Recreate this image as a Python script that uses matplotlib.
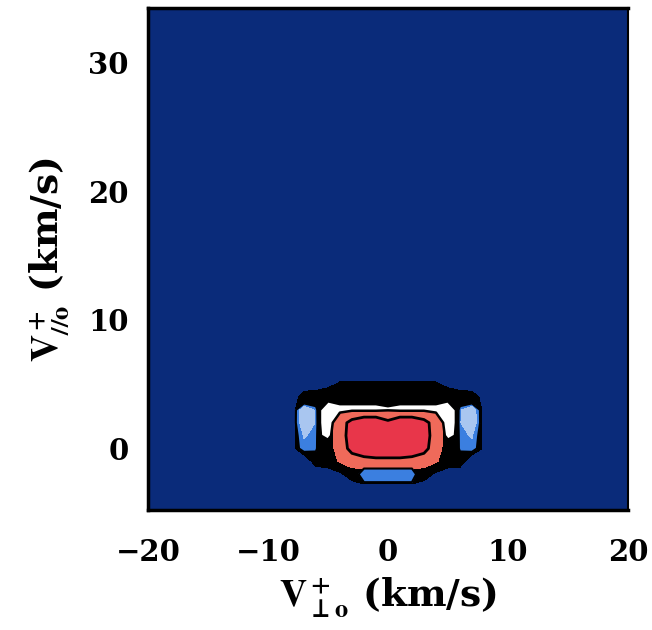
import numpy as np
import matplotlib
matplotlib.use("Agg")
import matplotlib.pyplot as plt

# grid of the distribution (km/s)
vperp = np.arange(-9, 10)          # x columns: -9 .. 9
vpar = np.arange(6, -5, -1)        # y rows: 6 .. -4 (top to bottom)

# main level field: 0 navy, 1 black rim, 2 salmon, 3 red core
f_main = np.array([
    [0, 0, 0, 0, 0, 0, 0, 0, 0, 0, 0, 0, 0, 0, 0, 0, 0, 0, 0],
    [0, 0, 0, 0, 0.3, 0.6, 0.6, 0.6, 0.6, 0.6, 0.6, 0.6, 0.6, 0.6, 0.3, 0, 0, 0, 0],
    [0, 0, 0.9, 1, 1, 1, 1, 1, 1, 1, 1, 1, 1, 1, 1, 1, 0.9, 0.2, 0],
    [0, 0.3, 1, 1, 1, 1.2, 1.6, 1.6, 1.6, 1.6, 1.6, 1.6, 1.6, 1.2, 1, 1, 1, 0.4, 0],
    [0, 0.3, 1, 1, 1, 2.1, 2.8, 3.2, 3.2, 2.7, 3.2, 3.2, 2.8, 2.1, 1, 1, 1, 0.4, 0],
    [0, 0.3, 1, 1, 1, 2.1, 2.9, 3.3, 3.3, 3.3, 3.3, 3.3, 2.9, 2.1, 1, 1, 1, 0.4, 0],
    [0, 0.3, 1, 1, 1, 2.0, 2.8, 3.2, 3.3, 3.3, 3.3, 3.2, 2.8, 2.0, 1, 1, 1, 0.4, 0],
    [0, 0, 0, 0.8, 1, 1.6, 2.0, 2.1, 2.2, 2.2, 2.2, 2.1, 2.0, 1.6, 1, 0.9, 0, 0, 0],
    [0, 0, 0, 0, 0, 0.3, 1, 1, 1, 1, 1, 1, 1, 0.3, 0, 0, 0, 0, 0],
    [0, 0, 0, 0, 0, 0, 0, 0.33, 0.33, 0.33, 0.33, 0.33, 0, 0, 0, 0, 0, 0, 0],
    [0, 0, 0, 0, 0, 0, 0, 0, 0, 0, 0, 0, 0, 0, 0, 0, 0, 0, 0],
])

# white arch over the core (white where > 0.5)
f_white = np.array([
    [-1] * 19,
    [-1] * 19,
    [-1, -1, -1, -0.5, 0, 0, 0, 0, 0, 0, 0, 0, 0, 0, 0, -0.5, -1, -1, -1],
    [-1, -1, -1, 0, 1.5, 0.9, 0.9, 0.9, 0.9, 0.7, 0.9, 0.9, 0.9, 0.9, 1.5, 0, -1, -1, -1],
    [-1, -1, -1, 0, 1.5, -1, -5, -5, -5, -5, -5, -5, -5, -1, 1.5, 0, -1, -1, -1],
    [-1, -1, -1, 0, 1.2, -1.5, -2, -2, -2, -2, -2, -2, -2, -1.5, 1.2, 0, -1, -1, -1],
    [-1] * 19,
    [-1] * 19,
    [-1] * 19,
    [-1] * 19,
    [-1] * 19,
])

# blue side/bottom patches: 1 blue, 2 light blue
f_blue = np.array([
    [-1.5] * 19,
    [-1.5] * 19,
    [-1.5] * 19,
    [-1.5, -0.5, 2.5, 1.3, -6, -1.5, -1.5, -1.5, -1.5, -1.5, -1.5, -1.5, -1.5, -1.5, -6, 1.3, 2.5, -0.5, -1.5],
    [-1.5, -0.5, 2.6, 1.4, -6, -1.5, -1.5, -1.5, -1.5, -1.5, -1.5, -1.5, -1.5, -1.5, -6, 1.4, 2.6, -0.5, -1.5],
    [-1.5, -0.5, 1.6, 1.2, -6, -1.5, -1.5, -1.5, -1.5, -1.5, -1.5, -1.5, -1.5, -1.5, -6, 1.2, 1.6, -0.5, -1.5],
    [-1.5, -0.5, 1.2, 1.1, -6, -1.5, -1.5, -1.5, -1.5, -1.5, -1.5, -1.5, -1.5, -1.5, -6, 1.1, 1.2, -0.5, -1.5],
    [-1.5, -1.5, -1.5, -1.5, -1.5, -1.5, -1.5, -0.5, -0.5, -0.5, -0.5, -0.5, -1.5, -1.5, -1.5, -1.5, -1.5, -1.5, -1.5],
    [-1.5, -1.5, -1.5, -1.5, -1.5, -1.5, -0.5, 1.3, 1.3, 1.3, 1.3, 1.3, -1, -1.5, -1.5, -1.5, -1.5, -1.5, -1.5],
    [-1.5, -1.5, -1.5, -1.5, -1.5, -1.5, -1.5, 0, 0, 0, 0, 0, -1.5, -1.5, -1.5, -1.5, -1.5, -1.5, -1.5],
    [-1.5] * 19,
])

xticks = [-20, -10, 0, 10, 20]
yticks = [0, 10, 20, 30]

navy = "#0a2b7a"

plt.rcParams["font.family"] = "DejaVu Serif"
plt.rcParams["font.weight"] = "bold"
plt.rcParams["mathtext.fontset"] = "stix"
plt.rcParams["mathtext.default"] = "rm"

fig = plt.figure(figsize=(6.52, 6.30), dpi=100)
ax = fig.add_axes([0.227, 0.19, 0.736, 0.797])
ax.set_facecolor(navy)

X, Y = np.meshgrid(vperp, vpar)
ax.contourf(X, Y, f_main, levels=[-1, 0.5, 1.5, 2.5, 10],
            colors=[navy, "black", "#ef6a5a", "#e8364a"])
ax.contour(X, Y, f_main, levels=[2.5], colors="black", linewidths=2)
ax.contourf(X, Y, f_white, levels=[0.5, 10], colors=["white"])
ax.contour(X, Y, f_white, levels=[0.5], colors="black", linewidths=1.8)
ax.contourf(X, Y, f_blue, levels=[0.5, 1.5, 10],
            colors=["#3b7fe0", "#a9c6f0"])
ax.contour(X, Y, f_blue, levels=[0.5], colors="black", linewidths=1.5)

ax.set_xlim(-20, 20)
ax.set_ylim(-4.8, 34.2)
ax.set_xticks(xticks)
ax.set_yticks(yticks)
ax.tick_params(length=0, labelsize=21)
ax.tick_params(axis="x", pad=20)
ax.tick_params(axis="y", pad=14)

for side in ["left", "bottom", "top"]:
    ax.spines[side].set_linewidth(2.5)
ax.spines["right"].set_linewidth(1.5)

ax.set_xlabel(r"$\mathbf{V}_{\bot\mathbf{o}}^{\,\mathbf{+}}$ (km/s)",
              fontsize=27, fontweight="bold", labelpad=6)
ax.set_ylabel(r"$\mathbf{V}_{\mathbf{//o}}^{\,\mathbf{+}}$ (km/s)",
              fontsize=27, fontweight="bold", labelpad=12)

plt.savefig("out.png", dpi=100)
